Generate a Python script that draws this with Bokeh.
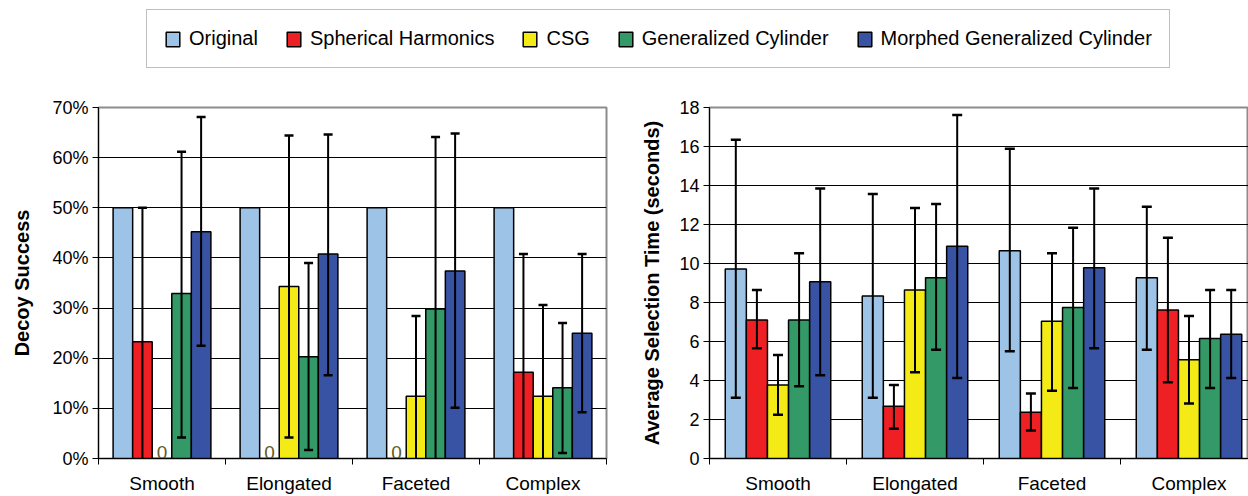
import math
from bokeh.plotting import figure
from bokeh.models import (FixedTicker, PrintfTickFormatter, Legend, LegendItem,
                          Range1d, CustomJSTickFormatter)
from bokeh.layouts import column, row
from bokeh.embed import file_html
from bokeh.resources import INLINE
from bokeh.core.properties import value

NaN = float("nan")

# ---------------- data ----------------
categories = ["Smooth", "Elongated", "Faceted", "Complex"]
series = ["Original", "Spherical Harmonics", "CSG", "Generalized Cylinder",
          "Morphed Generalized Cylinder"]
colors = ["#9DC3E6", "#EE2024", "#F4EB16", "#339966", "#3953A4"]

# Decoy success (%)
decoy_original = [50, 50, 50, 50]
decoy_sh = [23.3, 0, 0, 17.2]
decoy_csg = [0, 34.3, 12.4, 12.4]
decoy_gc = [32.9, 20.3, 29.8, 14.1]
decoy_mgc = [45.2, 40.8, 37.4, 25.0]

decoy_original_hi = [NaN, NaN, NaN, NaN]
decoy_original_lo = [NaN, NaN, NaN, NaN]
decoy_sh_hi = [50.0, NaN, NaN, 40.8]
decoy_sh_lo = [-3.4, NaN, NaN, -6.4]
decoy_csg_hi = [NaN, 64.4, 28.4, 30.6]
decoy_csg_lo = [NaN, 4.2, -3.6, -5.8]
decoy_gc_hi = [61.2, 39.0, 64.1, 27.0]
decoy_gc_lo = [4.2, 1.7, -4.5, 1.1]
decoy_mgc_hi = [68.1, 64.6, 64.8, 40.8]
decoy_mgc_lo = [22.5, 16.6, 10.1, 9.2]

# Average selection time (seconds)
time_original = [9.72, 8.33, 10.66, 9.27]
time_sh = [7.10, 2.68, 2.37, 7.62]
time_csg = [3.77, 8.64, 7.04, 5.07]
time_gc = [7.10, 9.27, 7.75, 6.15]
time_mgc = [9.07, 10.88, 9.78, 6.37]

time_original_hi = [16.34, 13.56, 15.88, 12.91]
time_original_lo = [3.12, 3.12, 5.50, 5.58]
time_sh_hi = [8.64, 3.77, 3.33, 11.32]
time_sh_lo = [5.65, 1.52, 1.43, 3.91]
time_csg_hi = [5.31, 12.84, 10.52, 7.31]
time_csg_lo = [2.24, 4.42, 3.47, 2.82]
time_gc_hi = [10.52, 13.05, 11.83, 8.64]
time_gc_lo = [3.71, 5.58, 3.62, 3.62]
time_mgc_hi = [13.85, 17.62, 13.85, 8.64]
time_mgc_lo = [4.27, 4.13, 5.65, 4.13]

decoy_ticks = [0, 10, 20, 30, 40, 50, 60, 70]
time_ticks = [0, 2, 4, 6, 8, 10, 12, 14, 16, 18]

FONT = "Liberation Sans"
BAR_W = 0.154


def make_panel(means, his, los, ticks, fmt, ylabel, width, border_left,
               border_right, x_end, cap_size, label_standoff):
    p = figure(width=width, height=416, output_backend="svg",
               toolbar_location=None,
               x_range=Range1d(0, x_end), y_range=Range1d(ticks[0], ticks[-1]),
               min_border_left=border_left, min_border_right=border_right,
               min_border_top=27, min_border_bottom=38)
    p.background_fill_color = "white"
    p.border_fill_color = "white"
    p.outline_line_color = "#8c8c8c"
    p.outline_line_width = 2
    p.xgrid.visible = False
    p.ygrid.ticker = FixedTicker(ticks=ticks[1:-1])
    p.ygrid.grid_line_color = "black"
    p.ygrid.grid_line_width = 1

    n = len(categories)
    for j in range(len(series)):
        xs = [i + 0.5 + (j - 2) * BAR_W for i in range(n)]
        p.vbar(x=xs, top=means[j], bottom=0, width=BAR_W,
               fill_color=colors[j], line_color="black", line_width=1.5)

    # zero-value labels
    zx, zy = [], []
    for j in range(len(series)):
        for i in range(n):
            if means[j][i] == 0:
                zx.append(i + 0.5 + (j - 2) * BAR_W)
                zy.append(0)
    if zx:
        p.text(x=zx, y=zy, text=["0"] * len(zx), text_align="center",
               text_baseline="bottom", text_font=value(FONT),
               text_font_size="19px", text_color="#5f5c1e")

    # error bars
    sx, sy0, sy1, cx, cy = [], [], [], [], []
    for j in range(len(series)):
        for i in range(n):
            hi, lo = his[j][i], los[j][i]
            if math.isnan(hi):
                continue
            x = i + 0.5 + (j - 2) * BAR_W
            sx.append(x)
            sy0.append(max(lo, 0))
            sy1.append(hi)
            cx.append(x)
            cy.append(hi)
            if lo >= 0:
                cx.append(x)
                cy.append(lo)
    p.segment(x0=sx, y0=sy0, x1=sx, y1=sy1, line_color="black", line_width=2)
    p.scatter(x=cx, y=cy, marker="dash", size=cap_size, line_color="black",
              line_width=2.5)

    # x axis
    p.xaxis.ticker = FixedTicker(ticks=[i + 0.5 for i in range(n)],
                                 minor_ticks=list(range(n + 1)))
    p.xaxis.formatter = CustomJSTickFormatter(
        args=dict(labels=categories),
        code="const k = Math.floor(tick); return (k >= 0 && k < labels.length) ? labels[k] : '';")
    p.xaxis.major_tick_out = 0
    p.xaxis.major_tick_in = 0
    p.xaxis.minor_tick_out = 6
    p.xaxis.minor_tick_in = 0
    p.xaxis.minor_tick_line_color = "black"
    p.xaxis.axis_line_color = "black"
    p.xaxis.major_label_text_font = FONT
    p.xaxis.major_label_text_font_size = "19px"
    p.xaxis.major_label_text_color = "black"
    p.xaxis.major_label_standoff = 8

    # y axis
    p.yaxis.ticker = FixedTicker(ticks=ticks)
    p.yaxis.formatter = PrintfTickFormatter(format=fmt)
    p.yaxis.major_tick_out = 6
    p.yaxis.major_tick_in = 0
    p.yaxis.minor_tick_line_color = None
    p.yaxis.major_tick_line_color = "black"
    p.yaxis.axis_line_color = "black"
    p.yaxis.major_label_text_font = FONT
    p.yaxis.major_label_text_font_size = "18px"
    p.yaxis.major_label_text_color = "black"
    p.yaxis.major_label_standoff = 4
    p.yaxis.axis_label = ylabel
    p.yaxis.axis_label_text_font = FONT
    p.yaxis.axis_label_text_font_size = "20px"
    p.yaxis.axis_label_text_font_style = "bold"
    p.yaxis.axis_label_text_color = "black"
    p.yaxis.axis_label_standoff = label_standoff
    return p


left = make_panel(
    [decoy_original, decoy_sh, decoy_csg, decoy_gc, decoy_mgc],
    [decoy_original_hi, decoy_sh_hi, decoy_csg_hi, decoy_gc_hi, decoy_mgc_hi],
    [decoy_original_lo, decoy_sh_lo, decoy_csg_lo, decoy_gc_lo, decoy_mgc_lo],
    decoy_ticks, "%d%%", "Decoy Success", 630, 98, 24, 4, 9, 16)

right = make_panel(
    [time_original, time_sh, time_csg, time_gc, time_mgc],
    [time_original_hi, time_sh_hi, time_csg_hi, time_gc_hi, time_mgc_hi],
    [time_original_lo, time_sh_lo, time_csg_lo, time_gc_lo, time_mgc_lo],
    time_ticks, "%d", "Average Selection Time (seconds)", 618, 79, 0,
    539 / 137.0, 10, 13)

# legend strip: tiny swatch renderers hidden underneath the legend box
lg = figure(width=1248, height=80, output_backend="svg", toolbar_location=None,
            x_range=Range1d(0, 1), y_range=Range1d(0, 1),
            min_border_left=0, min_border_right=0, min_border_top=0,
            min_border_bottom=0)
lg.axis.visible = False
lg.grid.visible = False
lg.outline_line_color = None
items = []
for name, col in zip(series, colors):
    r = lg.vbar(x=[0.5], top=[0.5], bottom=[0.49], width=0.001,
                fill_color=col, line_color=col, line_width=0.1)
    r.glyph.line_color = "black"
    r.glyph.line_width = 1.5
    items.append(LegendItem(label=name, renderers=[r]))
legend = Legend(items=items, orientation="horizontal", location=(146, 12),
                glyph_width=17, glyph_height=18, label_standoff=8, spacing=27,
                padding=17, margin=0,
                label_text_font=FONT, label_text_font_size="20px",
                label_text_color="black",
                border_line_color="#7f7f7f", border_line_width=1.5,
                background_fill_color="white", background_fill_alpha=1.0)
lg.add_layout(legend)

layout = column(lg, row(left, right, spacing=0), spacing=0)
open("out.html", "w").write(file_html(layout, INLINE))
